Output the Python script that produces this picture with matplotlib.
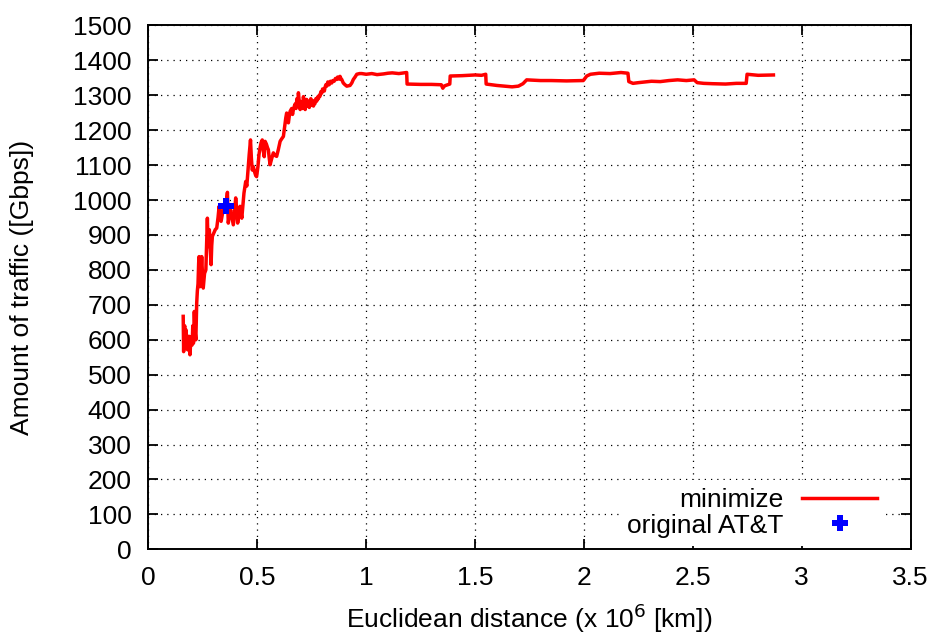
import matplotlib
matplotlib.use("Agg")
import matplotlib.pyplot as plt

plt.rcParams['font.family'] = ['Liberation Sans', 'DejaVu Sans']

# minimize curve: (distance x10^6 km, traffic Gbps)
dist = [0.160, 0.162, 0.164, 0.167, 0.170, 0.172, 0.176, 0.181, 0.186, 0.191,
        0.196, 0.201, 0.204, 0.207, 0.211, 0.215, 0.218, 0.222, 0.225, 0.228,
        0.231, 0.233, 0.237, 0.241, 0.245, 0.249, 0.252, 0.258, 0.264, 0.268,
        0.271, 0.273, 0.275, 0.278, 0.280, 0.284, 0.288, 0.291, 0.294, 0.300,
        0.307, 0.314, 0.320, 0.325, 0.330, 0.334, 0.340, 0.344, 0.350, 0.356,
        0.360, 0.363, 0.367, 0.372, 0.378, 0.384, 0.390, 0.396, 0.401, 0.406,
        0.410, 0.416, 0.421, 0.429, 0.435, 0.439, 0.447, 0.452, 0.458, 0.463,
        0.469, 0.473, 0.477, 0.482, 0.488, 0.493, 0.497, 0.503, 0.508, 0.513,
        0.518, 0.523, 0.528, 0.532, 0.536, 0.542, 0.547, 0.551, 0.555, 0.559,
        0.566, 0.574, 0.580, 0.589, 0.597, 0.605, 0.612, 0.620, 0.627, 0.631,
        0.635, 0.639, 0.643, 0.647, 0.651, 0.658, 0.662, 0.666, 0.670, 0.674,
        0.678, 0.682, 0.686, 0.689, 0.693, 0.697, 0.701, 0.704, 0.708, 0.712,
        0.716, 0.720, 0.724, 0.727, 0.731, 0.735, 0.739, 0.742, 0.746, 0.750,
        0.754, 0.758, 0.762, 0.765, 0.769, 0.773, 0.777, 0.781, 0.785, 0.788,
        0.792, 0.796, 0.800, 0.804, 0.808, 0.811, 0.815, 0.819, 0.824, 0.830,
        0.836, 0.842, 0.847, 0.853, 0.859, 0.865, 0.869, 0.873, 0.877, 0.880,
        0.884, 0.888, 0.895, 0.903, 0.911, 0.918, 0.926, 0.934, 0.941, 0.949,
        0.957, 0.970, 0.980, 1.000, 1.026, 1.050, 1.080, 1.100, 1.120, 1.150,
        1.186, 1.188, 1.250, 1.300, 1.345, 1.352, 1.358, 1.365, 1.384, 1.386,
        1.440, 1.470, 1.500, 1.530, 1.549, 1.551, 1.600, 1.636, 1.670, 1.699,
        1.720, 1.737, 1.800, 1.850, 1.920, 1.997, 2.013, 2.030, 2.070, 2.120,
        2.170, 2.202, 2.206, 2.225, 2.250, 2.280, 2.310, 2.350, 2.390, 2.430,
        2.470, 2.506, 2.520, 2.550, 2.590, 2.650, 2.700, 2.745, 2.749, 2.800,
        2.870]
traffic = [667, 566, 630, 640, 580, 629, 575, 571, 610, 557,
           609, 585, 640, 590, 681, 620, 600, 705, 740, 760,
           820, 838, 752, 790, 838, 780, 748, 790, 800, 880,
           948, 900, 867, 900, 915, 860, 815, 870, 896, 905,
           915, 920, 950, 982, 950, 939, 960, 977, 970, 990,
           1005, 1022, 934, 955, 972, 950, 929, 965, 1006, 970,
           934, 960, 982, 948, 990, 1020, 1053, 1040, 1090, 1130,
           1172, 1120, 1086, 1095, 1080, 1070, 1067, 1095, 1130, 1150,
           1165, 1172, 1140, 1124, 1168, 1160, 1150, 1144, 1120, 1101,
           1118, 1135, 1128, 1125, 1145, 1168, 1175, 1182, 1215, 1235,
           1249, 1232, 1221, 1240, 1254, 1262, 1245, 1259, 1268, 1275,
           1262, 1290, 1270, 1307, 1280, 1259, 1282, 1275, 1262, 1296,
           1278, 1259, 1275, 1288, 1270, 1282, 1265, 1278, 1290, 1272,
           1285, 1269, 1280, 1276, 1290, 1283, 1295, 1290, 1300, 1297,
           1310, 1306, 1318, 1316, 1312, 1322, 1330, 1326, 1338, 1330,
           1340, 1335, 1342, 1340, 1348, 1345, 1352, 1350, 1346, 1354,
           1348, 1345, 1335, 1330, 1326, 1327, 1328, 1335, 1345, 1352,
           1360, 1362, 1362, 1360, 1362, 1359, 1361, 1363, 1364, 1362,
           1365, 1332, 1331, 1331, 1330, 1320, 1326, 1328, 1332, 1355,
           1356, 1357, 1358, 1357, 1360, 1332, 1328, 1326, 1324, 1326,
           1333, 1344, 1342, 1342, 1341, 1342, 1355, 1360, 1363, 1362,
           1365, 1363, 1339, 1334, 1336, 1338, 1340, 1339, 1342, 1344,
           1342, 1344, 1336, 1334, 1333, 1332, 1334, 1334, 1360, 1357,
           1358]

att_dist = [0.355]
att_traffic = [984]

xticks = [0, 0.5, 1, 1.5, 2, 2.5, 3, 3.5]
xticklabels = ['0', '0.5', '1', '1.5', '2', '2.5', '3', '3.5']
yticks = list(range(0, 1501, 100))

fs = 19

fig = plt.figure(figsize=(9.36, 6.34), dpi=100)
ax = fig.add_axes([0.1585, 0.1335, 0.8144, 0.8265])

ax.plot(dist, traffic, color='#ff0000', lw=2.5, label='minimize', zorder=3)
ax.plot(att_dist, att_traffic, ls='none', marker='P', ms=12, mew=0,
        color='#0000ff', label='original AT&T', zorder=4)

ax.set_xlim(0, 3.5)
ax.set_ylim(0, 1500)
ax.set_xticks(xticks)
ax.set_xticklabels(xticklabels)
ax.set_yticks(yticks)

ax.grid(True, color='black', ls=(0, (1, 4)), lw=0.9)
ax.set_axisbelow(True)
ax.tick_params(direction='in', length=7, width=1.3, top=True, right=True,
               labelsize=fs)
ax.tick_params(axis='x', pad=12)
ax.tick_params(axis='y', pad=12)
for s in ax.spines.values():
    s.set_linewidth(1.4)

ax.set_xlabel('Euclidean distance (x 10$^6$ [km])', fontsize=fs, va='center')
ax.set_ylabel('Amount of traffic ([Gbps])', fontsize=fs, va='center')
ax.xaxis.set_label_coords(0.5, -0.131)
ax.yaxis.set_label_coords(-0.166, 0.5)

leg = ax.legend(loc='lower right', bbox_to_anchor=(0.977, -0.008), markerfirst=False,
                fontsize=fs, handlelength=2.85, handletextpad=0.7,
                labelspacing=0.05, borderpad=0.3, borderaxespad=0.3,
                frameon=True, fancybox=False, framealpha=1.0)
leg.get_frame().set_edgecolor('none')
leg.get_frame().set_facecolor('white')

fig.savefig('out.png', dpi=100)
